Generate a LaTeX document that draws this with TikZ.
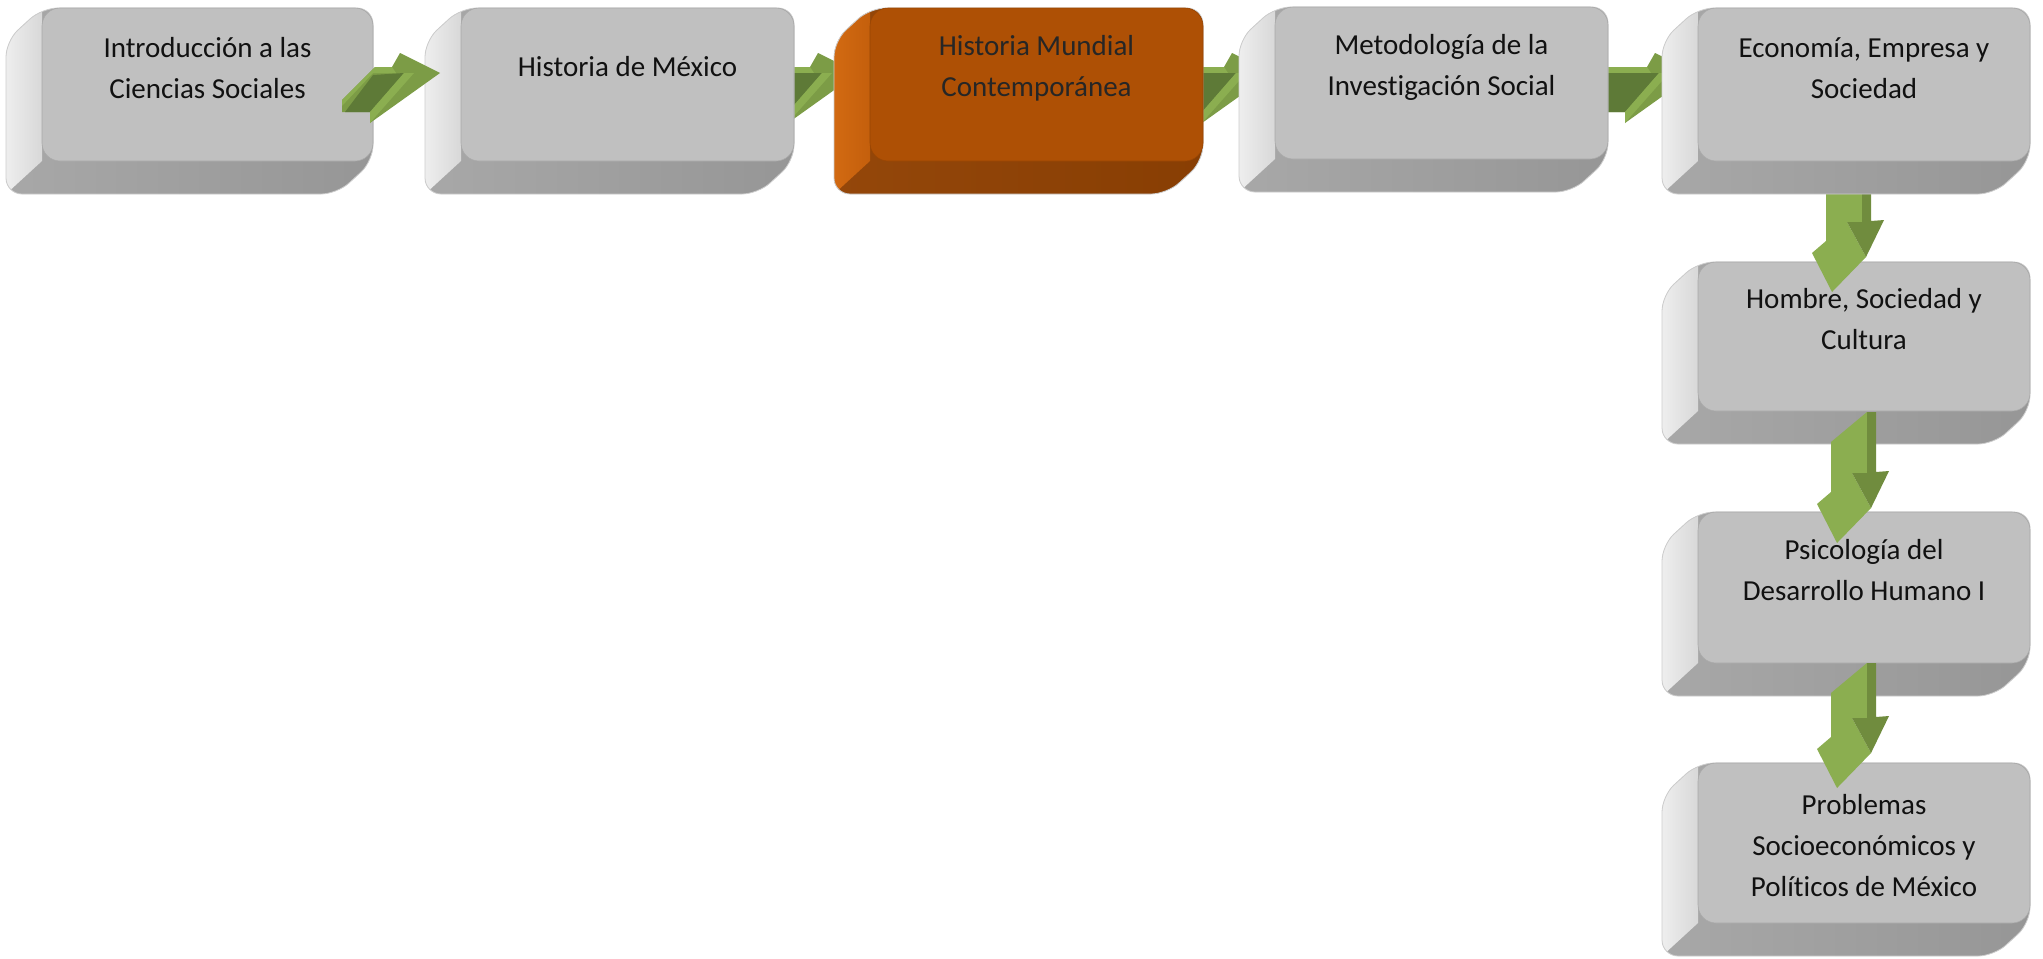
\documentclass[tikz,border=0pt]{standalone}
\usepackage{fontspec}
\setmainfont{Carlito}[Ligatures=NoCommon]
\usetikzlibrary{calc}
\definecolor{frontgray}{HTML}{C0C0C0}
\definecolor{sideAgray}{HTML}{EEEEEE}
\definecolor{sideBgray}{HTML}{D8D8D8}
\definecolor{botAgray}{HTML}{A8A8A8}
\definecolor{botBgray}{HTML}{969696}
\definecolor{frontor}{HTML}{AE5005}
\definecolor{sideAor}{HTML}{D26A12}
\definecolor{sideBor}{HTML}{C45F0C}
\definecolor{botAor}{HTML}{94470A}
\definecolor{botBor}{HTML}{883E03}
\definecolor{txtgray}{HTML}{111111}
\definecolor{txtor}{HTML}{262626}
\definecolor{grL}{HTML}{8BAE50}
\definecolor{grM}{HTML}{7C9C46}
\definecolor{grD}{HTML}{5E7A37}
\definecolor{grV}{HTML}{708C3E}
\tikzset{
  face/.style={inner sep=0pt, rounded corners=9pt, line width=0.3pt},
  hullline/.style={draw=black!20, line width=0.4pt, rounded corners=8pt},
  labelgray/.style={font=\fontsize{14.5}{20.5}\selectfont, align=center, text=txtgray, inner sep=0pt},
  labelor/.style={font=\fontsize{14.5}{20.5}\selectfont, align=center, text=txtor, inner sep=0pt},
  arrlight/.style={fill=grL},
  arrmid/.style={fill=grM},
  arrdark/.style={fill=grD},
  arrvdark/.style={fill=grV}
}
% #1 name, #2 x0, #3 y0, #4 x1, #5 y1, #6 scheme, #7 text, #8 text y
\newcommand{\bevelbox}[8]{%
  \begin{scope}
    \clip[rounded corners=8pt] (#2,#3) -- (#4,#3) -- (#4,#5) -- ({#4-36},{#5+33}) -- ({#2-36},{#5+33}) -- ({#2-36},{#3+33}) -- cycle;
    \shade[left color=botA#6, right color=botB#6] ({#2-40},{#3-2}) rectangle ({#4+2},{#5+36});
    \shade[left color=sideA#6, right color=sideB#6] (#2,#3) -- ({#2-36},{#3+33}) -- ({#2-36},{#5+33}) -- (#2,#5) -- cycle;
  \end{scope}
  \path[hullline] (#2,#3) -- (#4,#3) -- (#4,#5) -- ({#4-36},{#5+33}) -- ({#2-36},{#5+33}) -- ({#2-36},{#3+33}) -- cycle;
  \node[face, fill=front#6, draw=front#6!88!black] (#1) at ({(#2+#4)/2},{(#3+#5)/2}) [minimum width={(#4-#2)*0.5pt}, minimum height={(#5-#3)*0.5pt}] {};
  \node[label#6] (#1t) at ({(#2+#4)/2},#8) {#7};
}
% horizontal arrow, head-top point #1, tail x #2 (relative)
\newcommand{\harrow}[2]{%
  \begin{scope}[shift={(#1)}]
    \path[arrmid] (#2,14) -- (-8,14) -- (0,0) -- (40,20) -- (-30,70) -- (-30,59) -- (#2,59) -- cycle;
    \path[arrlight] (#2,14) -- (-8,14) -- (-4,20) -- (#2,20) -- cycle;
    \path[arrdark] (#2,20) -- (4,20) -- (-30,59) -- (#2,59) -- cycle;
    \path[arrlight] (4,20) -- (14,20) -- (-24,63) -- (-30,70) -- (-30,59) -- cycle;
  \end{scope}
}
% first horizontal arrow with visible slanted tail
\newcommand{\harrowfirst}[1]{%
  \begin{scope}[shift={(#1)}]
    \path[arrmid] (-58,47) -- (-25,14) -- (-8,14) -- (0,0) -- (40,20) -- (-30,70) -- (-30,59) -- (-58,59) -- cycle;
    \path[arrlight] (-58,47) -- (-25,14) -- (-8,14) -- (-4,20) -- (-27,20) -- (-58,53) -- cycle;
    \path[arrdark] (-55,59) -- (-27,22) -- (4,20) -- (-30,59) -- cycle;
    \path[arrlight] (4,20) -- (14,20) -- (-24,63) -- (-30,70) -- (-30,59) -- cycle;
  \end{scope}
}
% vertical arrow with slanted shaft top, tip #1, shaft top y #2 (relative)
\newcommand{\varrow}[2]{%
  \begin{scope}[shift={(#1)}]
    \path[arrlight] (-6,{#2+30}) -- (30,#2) -- (30,-70) -- (15,-70) -- (34,-35) -- (0,0) -- (-20,-39) -- (-6,-51) -- cycle;
    \path[arrvdark] (30,#2) -- (39,#2) -- (39,-71) -- (52,-72) -- (34,-35) -- (15,-70) -- (30,-70) -- cycle;
  \end{scope}
}
\newcommand{\varrowflat}[2]{%
  \begin{scope}[shift={(#1)}]
    \path[arrlight] (-6,#2) -- (30,#2) -- (30,-70) -- (15,-70) -- (34,-35) -- (0,0) -- (-20,-39) -- (-6,-51) -- cycle;
    \path[arrvdark] (30,#2) -- (39,#2) -- (39,-71) -- (52,-72) -- (34,-35) -- (15,-70) -- (30,-70) -- cycle;
  \end{scope}
}
\begin{document}
\begin{tikzpicture}[x=0.5pt,y=-0.5pt]
\useasboundingbox (0,0) rectangle (2043,958);
\fill[white] (0,0) rectangle (2043,958);
% arrow anchor points
\coordinate (h12) at (400,53);
\coordinate (h23) at (818,53);
\coordinate (h34) at (1232,53);
\coordinate (h45) at (1655,53);
\coordinate (v56) at (1832,292);
\coordinate (v67) at (1837,543);
\coordinate (v78) at (1837,788);
% arrows behind boxes
\harrow{h23}{-80}
\harrow{h34}{-80}
\harrow{h45}{-80}
% vertical column
\bevelbox{b8}{1698}{763}{2030}{923}{gray}{Problemas\\Socioeconómicos y\\Políticos de México}{846}
\bevelbox{b7}{1698}{512}{2030}{663}{gray}{Psicología del\\Desarrollo Humano I}{570}
\bevelbox{b6}{1698}{262}{2030}{411}{gray}{Hombre, Sociedad y\\Cultura}{319}
\varrowflat{v56}{-110}
% top row
\bevelbox{b1}{42}{8}{373}{161}{gray}{Introducción a las\\Ciencias Sociales}{68}
\bevelbox{b2}{461}{8}{794}{161}{gray}{Historia de México}{67}
\bevelbox{b3}{870}{8}{1203}{161}{or}{Historia Mundial\\Contemporánea}{68}
\bevelbox{b4}{1275}{7}{1608}{159}{gray}{Metodología de la\\Investigación Social}{67}
\bevelbox{b5}{1698}{8}{2030}{161}{gray}{Economía, Empresa y\\Sociedad}{68}
% arrows on top
\harrowfirst{h12}
\varrow{v67}{-131}
\varrow{v78}{-125}
\end{tikzpicture}
\end{document}
